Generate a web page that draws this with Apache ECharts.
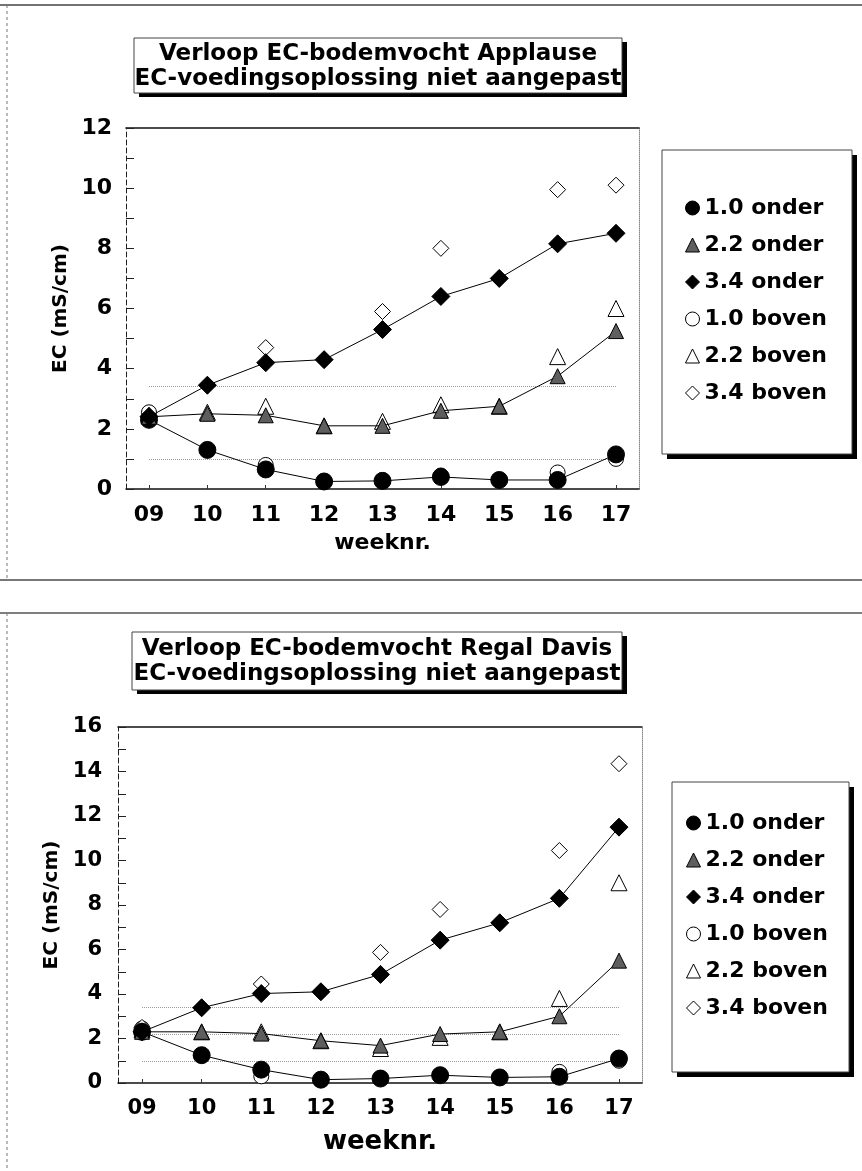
<!DOCTYPE html>
<html>
<head>
<meta charset="utf-8">
<script src="https://cdn.jsdelivr.net/npm/echarts@6/dist/echarts.min.js"></script>
<style>
  html, body { margin: 0; padding: 0; background: #fff; }
  #chart { width: 862px; height: 1171px; }
</style>
</head>
<body>
<div id="chart"></div>
<script>
// Week numbers on the x axis
const weeks = ['09', '10', '11', '12', '13', '14', '15', '16', '17'];
const seriesNames = ['1.0 onder', '2.2 onder', '3.4 onder', '1.0 boven', '2.2 boven', '3.4 boven'];
// Target EC levels drawn as dotted reference lines in each panel
const applauseTargets = [1.0, 3.4];
const regalTargets = [1.0, 2.2, 3.4];
const yTicksApplause = [0, 2, 4, 6, 8, 10, 12];
const yTicksRegal = [0, 2, 4, 6, 8, 10, 12, 14, 16];

// Applause: EC of soil moisture (mS/cm) per week
const applauseOnder10 = [2.3, 1.3, 0.65, 0.25, 0.27, 0.4, 0.3, 0.3, 1.15];
const applauseOnder22 = [2.4, 2.5, 2.45, 2.1, 2.1, 2.6, 2.75, 3.75, 5.25];
const applauseOnder34 = [2.4, 3.45, 4.2, 4.3, 5.3, 6.4, 7.0, 8.15, 8.5];
const applauseBoven10 = [2.55, 1.3, 0.8, 0.25, 0.3, 0.45, 0.3, 0.55, 1.0];
const applauseBoven22 = [2.45, 2.55, 2.75, 2.1, 2.25, 2.8, 2.75, 4.4, 6.0];
const applauseBoven34 = [2.45, 3.45, 4.7, 4.3, 5.9, 8.0, 7.0, 9.95, 10.1];

// Regal Davis: EC of soil moisture (mS/cm) per week
const regalOnder10 = [2.3, 1.25, 0.6, 0.15, 0.2, 0.35, 0.25, 0.28, 1.1];
const regalOnder22 = [2.3, 2.3, 2.22, 1.9, 1.68, 2.2, 2.3, 3.0, 5.5];
const regalOnder34 = [2.3, 3.38, 4.02, 4.1, 4.88, 6.42, 7.2, 8.3, 11.5];
const regalBoven10 = [2.45, 1.25, 0.3, 0.15, 0.2, 0.35, 0.25, 0.5, 1.0];
const regalBoven22 = [2.4, 2.3, 2.3, 1.9, 1.55, 2.05, 2.3, 3.8, 9.0];
const regalBoven34 = [2.5, 3.38, 4.45, 4.1, 5.87, 7.8, 7.2, 10.45, 14.35];

const FONT = '"DejaVu Sans", "Liberation Sans", Arial, sans-serif';
const weekNums = weeks.map(Number);

const markerStyles = [
  { symbol: 'circle',   size: 17, fill: '#000', line: true },
  { symbol: 'triangle', size: 15, fill: '#5e5e5e', line: true },
  { symbol: 'diamond',  size: 18, fill: '#000', line: true },
  { symbol: 'circle',   size: 15, fill: '#fff', line: false },
  { symbol: 'triangle', size: 16, fill: '#fff', line: false },
  { symbol: 'diamond',  size: 16, fill: '#fff', line: false }
];

function toPoints(values) {
  return weekNums.map((w, i) => [w, values[i]]);
}

function buildSeries(valueSets, axisIndex, targets) {
  return valueSets.map((vals, k) => {
    const m = markerStyles[k];
    const s = {
      name: seriesNames[k],
      type: m.line ? 'line' : 'scatter',
      xAxisIndex: axisIndex,
      yAxisIndex: axisIndex,
      data: toPoints(vals),
      symbol: m.symbol,
      symbolSize: m.size,
      itemStyle: { color: m.fill, borderColor: '#000', borderWidth: 1, opacity: 1 },
      z: m.line ? 4 : 3,
      silent: true,
      animation: false
    };
    if (m.line) {
      s.showSymbol = true;
      s.lineStyle = { color: '#000', width: 1 };
    }
    if (k === 0) {
      s.markLine = {
        silent: true,
        symbol: 'none',
        label: { show: false },
        lineStyle: { color: '#9a9a9a', type: 'dotted', width: 1 },
        z: 1,
        data: targets.map(v => [
          { coord: [weekNums[0], v] },
          { coord: [weekNums[weekNums.length - 1], v] }
        ])
      };
    }
    return s;
  });
}

function xAxes(gridIndex, min, max, labelSize, nameSize, nameGap) {
  return [
    {
      type: 'value', gridIndex, position: 'bottom', min, max,
      axisLine: { show: true, onZero: false, lineStyle: { color: '#111', width: 1.5 } },
      axisTick: { show: true, inside: true, length: 4, customValues: weekNums, lineStyle: { color: '#333' } },
      axisLabel: {
        customValues: weekNums,
        formatter: v => weeks[weekNums.indexOf(v)],
        margin: 15, color: '#000', fontFamily: FONT, fontWeight: 'bold', fontSize: labelSize
      },
      splitLine: { show: false },
      name: 'weeknr.', nameLocation: 'middle', nameGap,
      nameTextStyle: { color: '#000', fontFamily: FONT, fontWeight: 'bold', fontSize: nameSize }
    },
    {
      type: 'value', gridIndex, position: 'top', min, max,
      axisLine: { show: true, onZero: false, lineStyle: { color: '#111', width: 1.5 } },
      axisTick: { show: false }, axisLabel: { show: false }, splitLine: { show: false }
    }
  ];
}

function yAxes(gridIndex, max, ticks, labelSize, margin, nameGap) {
  return [
    {
      type: 'value', gridIndex, position: 'left', min: 0, max, interval: 1,
      axisLine: { show: true, onZero: false, lineStyle: { color: '#222', width: 1, type: [5, 3] } },
      axisTick: { show: true, inside: true, length: 8, lineStyle: { color: '#222' } },
      axisLabel: {
        customValues: ticks, margin, color: '#000',
        fontFamily: FONT, fontWeight: 'bold', fontSize: labelSize,
        padding: [0, 0, 6, 0]
      },
      splitLine: { show: false },
      name: 'EC (mS/cm)', nameLocation: 'middle', nameRotate: 90, nameGap,
      nameTextStyle: { color: '#000', fontFamily: FONT, fontWeight: 'bold', fontSize: 20 }
    },
    {
      type: 'value', gridIndex, position: 'right', min: 0, max,
      axisLine: { show: true, onZero: false, lineStyle: { color: '#888', width: 1, type: 'dotted' } },
      axisTick: { show: false }, axisLabel: { show: false }, splitLine: { show: false }
    }
  ];
}

function legend(left, top, padding) {
  return {
    orient: 'vertical', left, top, padding,
    itemWidth: 14, itemHeight: 14, itemGap: 15,
    selectedMode: false,
    z: 20,
    backgroundColor: 'transparent', borderWidth: 0,
    textStyle: { color: '#000', fontFamily: FONT, fontWeight: 'bold', fontSize: 22 },
    data: seriesNames.map((n, k) => ({
      name: n,
      icon: markerStyles[k].symbol,
      itemStyle: { color: markerStyles[k].fill, borderColor: '#000', borderWidth: 1 }
    }))
  };
}

// White box with a hard black drop shadow on the right and bottom
function shadowBox(x, y, w, h, dx, dy, z) {
  return [
    { type: 'rect', shape: { x: x + dx, y: y + dy, width: w, height: h }, z,
      style: { fill: '#000' } },
    { type: 'rect', shape: { x, y, width: w, height: h }, z: z + 1,
      style: { fill: '#fff', stroke: '#444', lineWidth: 1 } }
  ];
}

function titleBox(x, y, w, h, lines) {
  return [
    ...shadowBox(x, y, w, h, 5, 4, 10),
    {
      type: 'text', x: x + w / 2, y: y + h / 2 + 1, z: 12,
      style: { text: lines.join('\n'), align: 'center', verticalAlign: 'middle',
               font: 'bold 23px ' + FONT, lineHeight: 25, fill: '#000' }
    }
  ];
}

function rule(x1, y1, x2, y2, color, width, dash) {
  return { type: 'line', shape: { x1, y1, x2, y2 }, z: 0,
           style: { stroke: color, lineWidth: width, lineDash: dash || null } };
}

const applauseSeries = buildSeries([applauseOnder10, applauseOnder22, applauseOnder34,
                                    applauseBoven10, applauseBoven22, applauseBoven34], 0, applauseTargets);
const regalSeries = buildSeries([regalOnder10, regalOnder22, regalOnder34,
                                 regalBoven10, regalBoven22, regalBoven34], 2, regalTargets);

const option = {
  backgroundColor: '#fff',
  animation: false,
  grid: [
    { left: 126, width: 513, top: 128, height: 361 },
    { left: 118, width: 524, top: 727, height: 356 }
  ],
  xAxis: [
    ...xAxes(0, 8.606, 17.394, 22, 22, 43),
    ...xAxes(1, 8.597, 17.386, 21, 26, 46)
  ],
  yAxis: [
    ...yAxes(0, 12, yTicksApplause, 22, 14, 55),
    ...yAxes(1, 16, yTicksRegal, 21, 16, 48)
  ],
  legend: [
    legend(662, 150, [47, 26, 51, 23]),
    legend(672, 782, [30, 22, 53, 14])
  ],
  series: [...applauseSeries, ...regalSeries],
  graphic: [
    rule(0, 5, 862, 5, '#444', 1.5),
    rule(7, 5, 7, 580, '#777', 1, [3, 3]),
    rule(0, 580, 862, 580, '#777', 2),
    rule(0, 613, 862, 613, '#555', 1.5),
    rule(7, 613, 7, 1171, '#777', 1, [3, 3]),
    ...titleBox(134, 38, 488, 55, ['Verloop EC-bodemvocht Applause', 'EC-voedingsoplossing niet aangepast']),
    ...titleBox(132, 632, 490, 58, ['Verloop EC-bodemvocht Regal Davis', 'EC-voedingsoplossing niet aangepast']),
    ...shadowBox(662, 150, 190, 304, 5, 5, 1),
    ...shadowBox(672, 782, 177, 290, 5, 5, 1)
  ]
};

const chart = echarts.init(document.getElementById('chart'), null, { renderer: 'canvas' });
chart.setOption(option);
</script>
</body>
</html>
